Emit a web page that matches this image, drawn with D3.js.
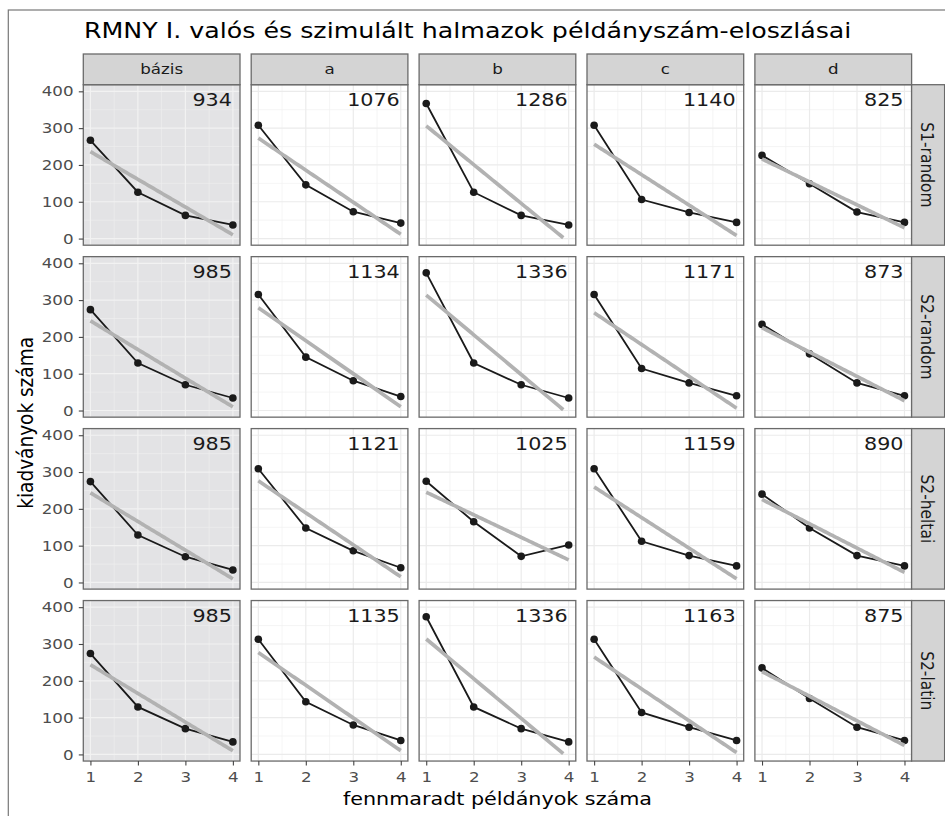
<!DOCTYPE html>
<html>
<head>
<meta charset="utf-8">
<script src="https://cdn.jsdelivr.net/npm/d3@7"></script>
<style>
  html, body { margin: 0; padding: 0; background: #fff; }
  text { font-family: "DejaVu Sans", sans-serif; }
</style>
</head>
<body>
<script>
// ---------------- data ----------------
const title = "RMNY I. valós és szimulált halmazok példányszám-eloszlásai";
const xTitle = "fennmaradt példányok száma";
const yTitle = "kiadványok száma";
const columns = ["bázis", "a", "b", "c", "d"];
const rows = ["S1-random", "S2-random", "S2-heltai", "S2-latin"];
const xValues = [1, 2, 3, 4];
const xTicks = [1, 2, 3, 4];
const yTicks = [0, 100, 200, 300, 400];

// counts per column (bázis, a, b, c, d) for x = 1..4
const s1Random = [[267, 126, 63, 37], [308, 146, 73, 42], [367, 126, 63, 37], [308, 106, 71, 44], [226, 149, 72, 44]];
const s2Random = [[274, 129, 70, 34], [315, 145, 81, 38], [374, 129, 70, 34], [315, 114, 75, 40], [234, 154, 75, 40]];
const s2Heltai = [[274, 129, 70, 34], [309, 148, 86, 40], [275, 165, 71, 102], [309, 112, 73, 45], [240, 148, 73, 45]];
const s2Latin  = [[274, 129, 70, 34], [313, 143, 80, 38], [374, 129, 70, 34], [313, 114, 74, 38], [235, 152, 74, 38]];

// numbers printed in the panels
const s1RandomTotals = [934, 1076, 1286, 1140, 825];
const s2RandomTotals = [985, 1134, 1336, 1171, 873];
const s2HeltaiTotals = [985, 1121, 1025, 1159, 890];
const s2LatinTotals  = [985, 1135, 1336, 1163, 875];

const rowValues = [s1Random, s2Random, s2Heltai, s2Latin];
const rowTotals = [s1RandomTotals, s2RandomTotals, s2HeltaiTotals, s2LatinTotals];

// ---------------- layout ----------------
const W = 945, H = 816;
const SX = 1.15; // horizontal text stretch seen in the reference
const panelLeft0 = 83.3, colStep = 167.9, panelW = 156.7;
const panelTop0 = 84.7, rowStep = 171.95, panelH = 160.5;
const stripTop = 54;
const rightStripW = 33;

const svg = d3.select("body").append("svg").attr("width", W).attr("height", H);
svg.append("rect").attr("width", W).attr("height", H).attr("fill", "#fff");
svg.append("rect").attr("x", 8.3).attr("y", 10).attr("width", W).attr("height", H + 50)
  .attr("fill", "none").attr("stroke", "#777").attr("stroke-width", 1.2);

function txt(parent, x, y, s, opt) {
  opt = opt || {};
  const rot = opt.rotate || 0;
  const tr = rot === 0
    ? `translate(${x},${y}) scale(${SX},1)`
    : `translate(${x},${y}) rotate(${rot}) scale(1,${SX})`;
  return parent.append("text")
    .attr("transform", tr)
    .style("font-size", (opt.size || 14) + "px")
    .attr("text-anchor", opt.anchor || "start")
    .attr("fill", opt.fill || "#1a1a1a")
    .text(s);
}

// title
txt(svg, 84, 37.7, title, { size: 22, fill: "#000" });

const x = d3.scaleLinear().domain([0.85, 4.15]).range([0, panelW]);
const y = d3.scaleLinear().domain([-18, 418]).range([panelH, 0]);

const xMinor = xTicks.slice(1).map((t, i) => (t + xTicks[i]) / 2);
const yMinor = yTicks.slice(1).map((t, i) => (t + yTicks[i]) / 2);

const lineGen = d3.line().x(d => x(d[0])).y(d => y(d[1]));

function lmFit(xs, ys) {
  const mx = d3.mean(xs), my = d3.mean(ys);
  let sxy = 0, sxx = 0;
  xs.forEach((xv, i) => { sxy += (xv - mx) * (ys[i] - my); sxx += (xv - mx) * (xv - mx); });
  const b = sxy / sxx;
  return { a: my - b * mx, b: b };
}

function styleAxis(ax) {
  ax.attr("font-size", null).attr("font-family", null);
  ax.select(".domain").remove();
  ax.selectAll("line").attr("stroke", "#444").attr("stroke-width", 1.1);
  ax.selectAll("text")
    .style("font-size", "14.5px")
    .style("font-family", "'DejaVu Sans', sans-serif")
    .attr("fill", "#4d4d4d")
    .attr("transform", `scale(${SX},1)`);
}

rows.forEach((rowName, r) => {
  const top = panelTop0 + r * rowStep;
  columns.forEach((colName, c) => {
    const left = panelLeft0 + c * colStep;
    const g = svg.append("g").attr("transform", `translate(${left},${top})`);
    const vals = rowValues[r][c];

    g.append("rect").attr("width", panelW).attr("height", panelH)
      .attr("fill", c === 0 ? "#e3e3e5" : "#fff");

    // minor grid
    g.selectAll(".vx").data(xMinor).enter().append("line")
      .attr("x1", d => x(d)).attr("x2", d => x(d)).attr("y1", 0).attr("y2", panelH)
      .attr("stroke", c === 0 ? "#eeeeee" : "#f1f1f1").attr("stroke-width", 0.7);
    g.selectAll(".hy").data(yMinor).enter().append("line")
      .attr("y1", d => y(d)).attr("y2", d => y(d)).attr("x1", 0).attr("x2", panelW)
      .attr("stroke", c === 0 ? "#eeeeee" : "#f1f1f1").attr("stroke-width", 0.7);
    // major grid
    g.selectAll(".vX").data(xTicks).enter().append("line")
      .attr("x1", d => x(d)).attr("x2", d => x(d)).attr("y1", 0).attr("y2", panelH)
      .attr("stroke", c === 0 ? "#f2f2f2" : "#ebebeb").attr("stroke-width", 1.2);
    g.selectAll(".hY").data(yTicks).enter().append("line")
      .attr("y1", d => y(d)).attr("y2", d => y(d)).attr("x1", 0).attr("x2", panelW)
      .attr("stroke", c === 0 ? "#f2f2f2" : "#ebebeb").attr("stroke-width", 1.2);

    const pts = xValues.map((xv, i) => [xv, vals[i]]);
    g.append("path").attr("d", lineGen(pts)).attr("fill", "none")
      .attr("stroke", "#1a1a1a").attr("stroke-width", 1.8);
    g.selectAll(".pt").data(pts).enter().append("circle")
      .attr("cx", d => x(d[0])).attr("cy", d => y(d[1])).attr("r", 3.8).attr("fill", "#1a1a1a");

    // linear fit (stat), evaluated like geom_smooth on 80 points, clipped to the 0..400 limits
    const fit = lmFit(xValues, vals);
    const xs = d3.range(80).map(i => 1 + i * 3 / 79);
    const fitPts = xs.map(xv => [xv, fit.a + fit.b * xv]).filter(d => d[1] >= 0 && d[1] <= 400);
    g.append("path").attr("d", lineGen(fitPts)).attr("fill", "none")
      .attr("stroke", "#b2b2b2").attr("stroke-width", 3.7);

    // total label
    txt(g, x(4) - 1, y(400) + 14.4, String(rowTotals[r][c]), { size: 18, anchor: "end", fill: "#1a1a1a" });

    // border
    g.append("rect").attr("width", panelW).attr("height", panelH).attr("fill", "none")
      .attr("stroke", "#6a6a6a").attr("stroke-width", 1.3);

    // axes
    if (c === 0) {
      const ax = g.append("g").call(d3.axisLeft(y).tickValues(yTicks).tickFormat(d3.format("d"))
        .tickSize(4.5).tickPadding(4));
      styleAxis(ax);
    }
    if (r === rows.length - 1) {
      const ax = g.append("g").attr("transform", `translate(0,${panelH})`)
        .call(d3.axisBottom(x).tickValues(xTicks).tickFormat(d3.format("d"))
          .tickSize(4.5).tickPadding(6.5));
      styleAxis(ax);
    }
  });

  // right strip
  const sx = panelLeft0 + (columns.length - 1) * colStep + panelW;
  svg.append("rect").attr("x", sx).attr("y", top).attr("width", rightStripW).attr("height", panelH)
    .attr("fill", "#d4d4d4").attr("stroke", "#6a6a6a").attr("stroke-width", 1.3);
  txt(svg, 921, top + panelH / 2, rowName, { size: 15.5, anchor: "middle", rotate: 90 });
});

// top strips
columns.forEach((colName, c) => {
  const left = panelLeft0 + c * colStep;
  svg.append("rect").attr("x", left).attr("y", stripTop).attr("width", panelW)
    .attr("height", panelTop0 - stripTop)
    .attr("fill", "#d4d4d4").attr("stroke", "#6a6a6a").attr("stroke-width", 1.3);
  txt(svg, left + panelW / 2, 74, colName, { size: 14.5, anchor: "middle" });
});

// axis titles
const regionBottom = panelTop0 + (rows.length - 1) * rowStep + panelH;
txt(svg, (panelLeft0 + panelLeft0 + (columns.length - 1) * colStep + panelW) / 2, 805, xTitle,
  { size: 18, anchor: "middle", fill: "#000" });
txt(svg, 33.3, (panelTop0 + regionBottom) / 2, yTitle, { size: 18.5, anchor: "middle", fill: "#000", rotate: -90 });
</script>
</body>
</html>
